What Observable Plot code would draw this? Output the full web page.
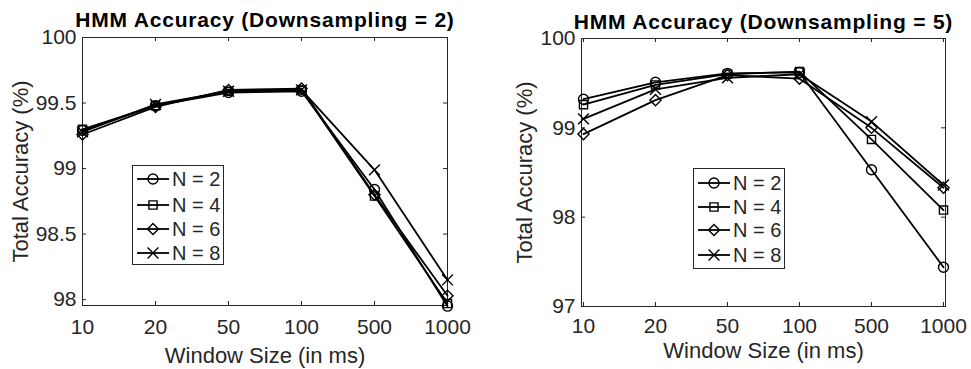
<!DOCTYPE html>
<html><head><meta charset="utf-8">
<script src="https://cdn.jsdelivr.net/npm/d3@7"></script>
<script src="https://cdn.jsdelivr.net/npm/@observablehq/plot@0.6"></script>
<style>
body{margin:0;background:#fff;}
#wrap{position:relative;width:971px;height:369px;background:#fff;font-family:"Liberation Sans",Arial,Helvetica,sans-serif;}
.panel{position:absolute;top:0;}
.legend{position:absolute;}
</style></head><body><div id="wrap"></div>
<script>
// ---- data ----
const windows = ["10", "20", "50", "100", "500", "1000"];
const seriesNames = ["N = 2", "N = 4", "N = 6", "N = 8"];
const seriesSymbols = ["circle", "square", "diamond2", "times"];
const titles = ["HMM Accuracy (Downsampling = 2)", "HMM Accuracy (Downsampling = 5)"];
const xLabel = "Window Size (in ms)";
const yLabel = "Total Accuracy (%)";

// Downsampling = 2
const ds2_N2 = [99.29, 99.48, 99.58, 99.59, 98.84, 97.95];
const ds2_N4 = [99.30, 99.48, 99.59, 99.60, 98.79, 97.97];
const ds2_N6 = [99.26, 99.47, 99.60, 99.61, 98.80, 98.03];
const ds2_N8 = [99.28, 99.49, 99.59, 99.60, 98.99, 98.15];
const ds2_yTicks = [98, 98.5, 99, 99.5, 100];
const ds2_yDomain = [97.955, 100];

// Downsampling = 5
const ds5_N2 = [99.32, 99.51, 99.61, 99.62, 98.53, 97.44];
const ds5_N4 = [99.26, 99.48, 99.60, 99.63, 98.87, 98.08];
const ds5_N6 = [98.93, 99.31, 99.59, 99.55, 99.00, 98.33];
const ds5_N8 = [99.10, 99.43, 99.56, 99.60, 99.07, 98.36];
const ds5_yTicks = [97, 98, 99, 100];
const ds5_yDomain = [97, 100];

const symbolSizes = {circle: 5, square: 4.6, diamond2: 5, times: 5};
const ink = "#262626";

function tidy(seriesArrays) {
  const rows = [];
  seriesArrays.forEach((arr, si) => arr.forEach((v, i) => rows.push({w: windows[i], acc: v, N: seriesNames[si]})));
  return rows;
}

function makePanel(cfg) {
  const rows = tidy(cfg.series);
  const fw = cfg.width - cfg.marginLeft - cfg.marginRight;
  const fh = cfg.height - cfg.marginTop - cfg.marginBottom;
  const tick = 4;
  const marks = [
    Plot.frame({stroke: ink, strokeWidth: 1}),
    Plot.ruleX(windows, {x: d => d, insetTop: fh - tick, stroke: ink}),
    Plot.ruleX(windows, {x: d => d, insetBottom: fh - tick, stroke: ink}),
    Plot.ruleY(cfg.yTicks, {y: d => d, insetRight: fw - tick, stroke: ink}),
    Plot.ruleY(cfg.yTicks, {y: d => d, insetLeft: fw - tick, stroke: ink}),
    Plot.axisX({tickSize: 0, tickPadding: cfg.xTickPad, fontSize: 21, fill: ink, label: null}),
    Plot.axisY({ticks: cfg.yTicks, tickSize: 0, tickPadding: 6, fontSize: 21, fill: ink, label: null, tickFormat: d => String(d)}),
    Plot.line(rows, {x: "w", y: "acc", z: "N", stroke: "black", strokeWidth: 1.8})
  ];
  seriesNames.forEach((name, si) => {
    const sym = seriesSymbols[si];
    marks.push(Plot.dot(rows.filter(r => r.N === name), {x: "w", y: "acc", symbol: () => sym, r: symbolSizes[sym], stroke: "black", fill: "none", strokeWidth: 1.4}));
  });
  marks.push(
    Plot.text([cfg.title], {text: d => d, frameAnchor: "top", dy: cfg.titleDy, lineAnchor: "middle", fontSize: 21, fontWeight: "bold", fill: "black"}),
    Plot.text([xLabel], {text: d => d, frameAnchor: "bottom", dy: cfg.xLabelDy, lineAnchor: "middle", fontSize: 22, fill: ink}),
    Plot.text([yLabel], {text: d => d, frameAnchor: "left", dx: cfg.yLabelDx, rotate: -90, textAnchor: "middle", lineAnchor: "middle", fontSize: 22, fill: ink})
  );
  const svg = Plot.plot({
    width: cfg.width, height: cfg.height,
    marginLeft: cfg.marginLeft, marginRight: cfg.marginRight, marginTop: cfg.marginTop, marginBottom: cfg.marginBottom,
    style: {fontFamily: '"Liberation Sans", Arial, Helvetica, sans-serif', background: "transparent", overflow: "visible"},
    x: {type: "point", domain: windows, padding: 0},
    y: {domain: cfg.yDomain},
    symbol: {type: "identity"},
    marks
  });
  svg.classList.add("panel");
  svg.style.left = cfg.left + "px";
  d3.select(svg).selectAll("text").filter(function () { return this.textContent === cfg.title; }).style("letter-spacing", "0.8px");
  return svg;
}

function makeLegend(cfg) {
  const w = 91, h = cfg.h;
  const svg = d3.create("svg").attr("class", "legend").attr("width", w + 2).attr("height", h + 2)
    .style("left", cfg.left + "px").style("top", cfg.top + "px");
  svg.append("rect").attr("x", 0.5).attr("y", 0.5).attr("width", w).attr("height", h).attr("fill", "white").attr("stroke", ink);
  const symMap = {circle: d3.symbolCircle, square: d3.symbolSquare, diamond2: d3.symbolDiamond2, times: d3.symbolTimes};
  seriesNames.forEach((name, i) => {
    const y = cfg.rows[i];
    const g = svg.append("g");
    g.append("line").attr("x1", 5).attr("x2", 37).attr("y1", y).attr("y2", y).attr("stroke", "black").attr("stroke-width", 1.8);
    const sym = seriesSymbols[i];
    const r = symbolSizes[sym];
    g.append("path").attr("transform", `translate(21,${y})`).attr("d", d3.symbol(symMap[sym], Math.PI * r * r)())
      .attr("fill", "none").attr("stroke", "black").attr("stroke-width", 1.4);
    g.append("text").attr("x", 40).attr("y", y).attr("dy", "0.35em").attr("font-size", 20).attr("fill", ink)
      .attr("font-family", '"Liberation Sans", Arial, sans-serif').text(name);
  });
  return svg.node();
}

const wrap = document.getElementById("wrap");
wrap.appendChild(makePanel({
  left: 0, width: 490, height: 369, marginLeft: 82, marginRight: 43, marginTop: 37, marginBottom: 64,
  series: [ds2_N2, ds2_N4, ds2_N6, ds2_N8], yDomain: ds2_yDomain, yTicks: ds2_yTicks,
  title: titles[0], titleDy: -17, xLabelDy: 50, yLabelDx: -62, xTickPad: 14
}));
wrap.appendChild(makePanel({
  left: 490, width: 481, height: 369, marginLeft: 91, marginRight: 26, marginTop: 38, marginBottom: 63,
  series: [ds5_N2, ds5_N4, ds5_N6, ds5_N8], yDomain: ds5_yDomain, yTicks: ds5_yTicks,
  title: titles[1], titleDy: -16.5, xLabelDy: 44, yLabelDx: -57, xTickPad: 12
}));
wrap.appendChild(makeLegend({left: 132, top: 165, h: 99, rows: [14, 40, 64, 88]}));
wrap.appendChild(makeLegend({left: 693, top: 168, h: 100, rows: [15, 39, 62, 87]}));
</script></body></html>
